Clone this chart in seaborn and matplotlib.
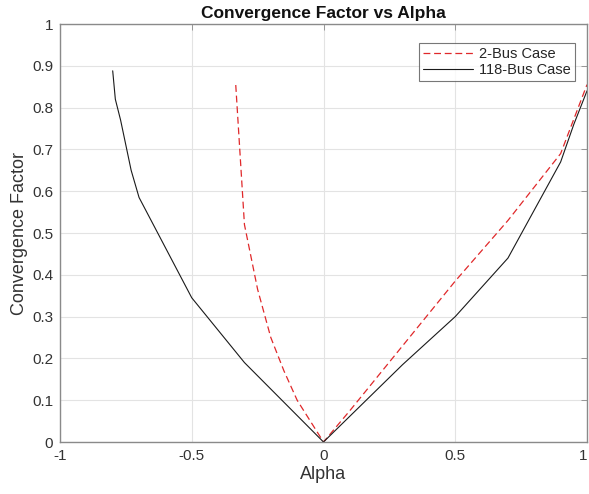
import matplotlib
matplotlib.use("Agg")
import matplotlib.pyplot as plt
import numpy as np
import pandas as pd
import seaborn as sns

# 2-bus case
alpha_2bus = [-0.333, -0.3, -0.25, -0.2, -0.15, -0.1, -0.05, 0.0,
              0.1, 0.3, 0.5, 0.7, 0.9, 1.0]
conv_2bus = [0.854, 0.52, 0.365, 0.25, 0.17, 0.10, 0.05, 0.0,
             0.075, 0.23, 0.385, 0.53, 0.69, 0.855]

# 118-bus case
alpha_118 = [-0.8, -0.79, -0.77, -0.75, -0.73, -0.7, -0.5, -0.3, 0.0,
             0.3, 0.5, 0.7, 0.9, 0.95, 1.0]
conv_118 = [0.888, 0.82, 0.77, 0.71, 0.65, 0.585, 0.345, 0.19, 0.0,
            0.185, 0.30, 0.44, 0.67, 0.76, 0.84]

x_ticks = [-1, -0.5, 0, 0.5, 1]
x_tick_labels = ["-1", "-0.5", "0", "0.5", "1"]
y_ticks = [0, 0.1, 0.2, 0.3, 0.4, 0.5, 0.6, 0.7, 0.8, 0.9, 1]
y_tick_labels = ["0", "0.1", "0.2", "0.3", "0.4", "0.5", "0.6", "0.7", "0.8", "0.9", "1"]

df_2 = pd.DataFrame({"alpha": alpha_2bus, "conv": conv_2bus})
df_118 = pd.DataFrame({"alpha": alpha_118, "conv": conv_118})

sns.set_style("white")
plt.rcParams["font.family"] = ["Liberation Sans", "DejaVu Sans"]

fig = plt.figure(figsize=(5.89, 4.94), dpi=100)
ax = fig.add_axes([60 / 589, 52 / 494, 527 / 589, 418 / 494])

sns.lineplot(data=df_2, x="alpha", y="conv", ax=ax, color="#e0282a",
             linestyle=(0, (5.5, 3)), linewidth=0.9, estimator=None,
             sort=False, label="2-Bus Case")
sns.lineplot(data=df_118, x="alpha", y="conv", ax=ax, color="#1a1a1a",
             linewidth=0.8, estimator=None, sort=False, label="118-Bus Case")

ax.set_xlim(-1, 1)
ax.set_ylim(0, 1)
ax.set_xticks(x_ticks)
ax.set_xticklabels(x_tick_labels)
ax.set_yticks(y_ticks)
ax.set_yticklabels(y_tick_labels)
ax.get_xticklabels()[-1].set_horizontalalignment("right")
ax.grid(True, color="#e3e3e3", linewidth=0.8)
ax.set_axisbelow(True)
for s in ax.spines.values():
    s.set_color("#8a8a8a")
    s.set_linewidth(1.0)
ax.tick_params(direction="in", length=4, width=0.6, color="#8a8a8a",
               labelsize=11, labelcolor="#333333", top=True, right=True, pad=5)

ax.set_title("Convergence Factor vs Alpha", fontsize=12.5, fontweight="bold",
             color="#111111", pad=4)
ax.set_xlabel("Alpha", fontsize=13, color="#333333", labelpad=2)
ax.set_ylabel("Convergence Factor", fontsize=13, color="#333333", labelpad=3)

leg = ax.legend(loc="upper right", fontsize=10.5, frameon=True, fancybox=False,
                borderpad=0.3, handlelength=3.4, handletextpad=0.4,
                labelspacing=0.1, borderaxespad=0,
                bbox_to_anchor=(515 / 527, (442 - 43) / 418))
leg.get_frame().set_edgecolor("#555555")
leg.get_frame().set_linewidth(0.8)

plt.savefig("out.png", dpi=100)
plt.close()
